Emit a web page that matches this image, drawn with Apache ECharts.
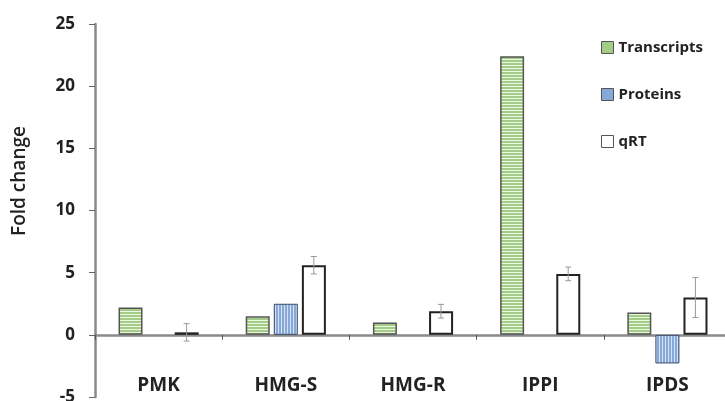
<!DOCTYPE html>
<html>
<head>
<meta charset="utf-8">
<script src="https://cdn.jsdelivr.net/npm/echarts@6/dist/echarts.min.js"></script>
<style>html,body{margin:0;padding:0;background:#fff}#c{width:725px;height:401px}</style>
</head>
<body>
<div id="c"></div>
<script>
const categories = ['PMK', 'HMG-S', 'HMG-R', 'IPPI', 'IPDS'];
const transcripts = [2.2, 1.5, 1.0, 22.4, 1.8];
const proteins = [null, 2.5, null, null, -2.3];
const qrt = [0.2, 5.6, 1.9, 4.9, 3.0];
const qrtErr = [0.7, 0.7, 0.55, 0.55, 1.6];
const yTicks = { min: -5, max: 25, interval: 5 };

function stripe(w, h, base, light, vertical) {
  const c = document.createElement('canvas');
  c.width = w; c.height = h;
  const g = c.getContext('2d');
  g.fillStyle = base; g.fillRect(0, 0, w, h);
  g.fillStyle = light;
  if (vertical) g.fillRect(w - 1, 0, 1, h); else g.fillRect(0, h - 1, w, 1);
  return c;
}
const greenPat = { image: stripe(4, 3, '#a3cd86', '#eef6e4', false), repeat: 'repeat' };
const bluePat = { image: stripe(3, 4, '#86a9da', '#d5e2f3', true), repeat: 'repeat' };

const font = '"Open Sans", "DejaVu Sans", sans-serif';
const chart = echarts.init(document.getElementById('c'));
const yTitle = {
  type: 'text', x: 20, y: 181, rotation: Math.PI / 2,
  style: { text: 'Fold change', fontFamily: font, fontSize: 19, fontWeight: 600, fill: '#222', textAlign: 'center', textVerticalAlign: 'middle' }
};
chart.setOption({
  animation: false,
  grid: { left: 95, right: -6, top: 24, bottom: 4, containLabel: false, outerBoundsMode: 'none' },
  legend: {
    orient: 'vertical', left: 596, top: 35, itemGap: 32,
    itemWidth: 12, itemHeight: 12, icon: 'rect',
    textStyle: { fontFamily: font, fontWeight: 'bold', fontSize: 15, color: '#222' },
    data: [
      { name: 'Transcripts', itemStyle: { color: '#a3cd86', borderColor: '#555', borderWidth: 1 } },
      { name: 'Proteins', itemStyle: { color: '#86a9da', borderColor: '#555', borderWidth: 1 } },
      { name: 'qRT', itemStyle: { color: '#fff', borderColor: '#555', borderWidth: 1 } }
    ]
  },
  graphic: [yTitle],
  xAxis: {
    type: 'category', data: categories,
    axisLine: { onZero: true, lineStyle: { color: '#8a8a8a', width: 2.5 } },
    axisTick: { show: true, length: 5, lineStyle: { color: '#555' } },
    axisLabel: { show: false },
    splitLine: { show: false }
  },
  yAxis: {
    type: 'value', min: yTicks.min, max: yTicks.max, interval: yTicks.interval,
    axisLine: { show: true, onZero: false, lineStyle: { color: '#8a8a8a', width: 2.5 } },
    axisTick: { show: true, length: 6, lineStyle: { color: '#666' } },
    axisLabel: { margin: 20, fontFamily: font, fontWeight: 'bold', fontSize: 17, color: '#222' },
    splitLine: { show: false }
  },
  series: [
    { name: 'Transcripts', type: 'bar', data: transcripts, barWidth: 24, barGap: '17%',
      itemStyle: { color: greenPat, borderColor: '#555', borderWidth: 1.5 } },
    { name: 'Proteins', type: 'bar', data: proteins, barWidth: 24, barGap: '17%',
      itemStyle: { color: bluePat, borderColor: '#3a4a66', borderWidth: 1 } },
    { name: 'qRT', type: 'bar', data: qrt, barWidth: 24, barGap: '17%',
      itemStyle: { color: '#fff', borderColor: '#222', borderWidth: 2 } },
    { name: 'err', type: 'custom', z: 10,
      data: qrt.map((v, i) => [i, v, qrtErr[i]]),
      renderItem: function (params, api) {
        const i = api.value(0), v = api.value(1), e = api.value(2);
        const top = api.coord([i, v + e]);
        const bot = api.coord([i, v - e]);
        const x = top[0] + 28;
        const st = { stroke: '#999', lineWidth: 1 };
        return { type: 'group', children: [
          { type: 'line', shape: { x1: x, y1: top[1], x2: x, y2: bot[1] }, style: st },
          { type: 'line', shape: { x1: x - 3, y1: top[1], x2: x + 3, y2: top[1] }, style: st },
          { type: 'line', shape: { x1: x - 3, y1: bot[1], x2: x + 3, y2: bot[1] }, style: st }
        ] };
      }
    }
  ]
});
// Category labels sit at the bottom of the plot (Excel "low" label position)
const labelY = chart.convertToPixel({ yAxisIndex: 0 }, -4.1);
const catLabels = categories.map((c, i) => {
  const x = chart.convertToPixel({ xAxisIndex: 0 }, i);
  return {
    type: 'text', x: x, y: labelY,
    style: { text: c, fontFamily: font, fontSize: 19, fontWeight: 'bold', fill: '#222', textAlign: 'center', textVerticalAlign: 'middle' }
  };
});
chart.setOption({ graphic: [yTitle].concat(catLabels) }, { replaceMerge: ['graphic'] });
</script>
</body>
</html>
